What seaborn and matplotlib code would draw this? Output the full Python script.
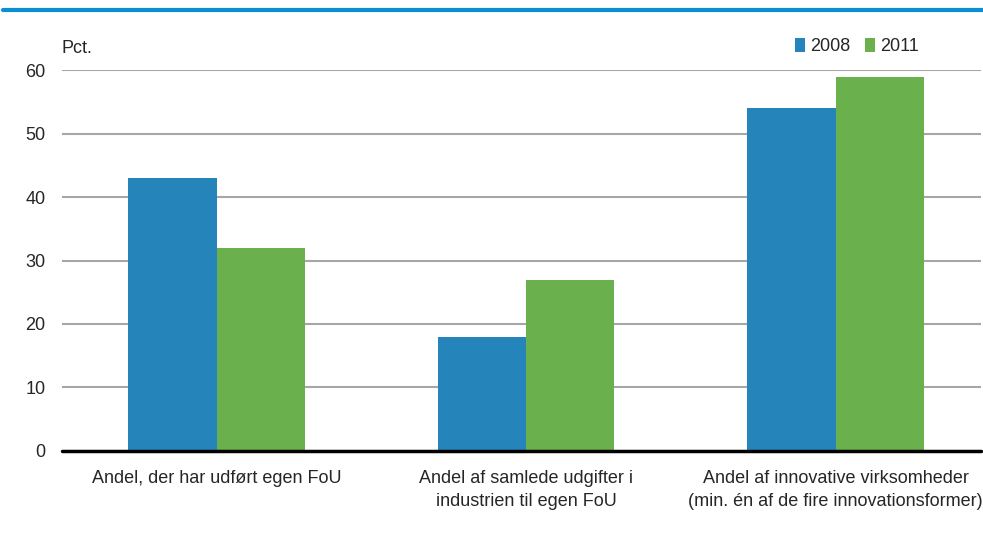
import matplotlib
matplotlib.use("Agg")
import matplotlib.pyplot as plt
import seaborn as sns
import pandas as pd
from matplotlib.lines import Line2D
from matplotlib.patches import Patch

categories = [
    "Andel, der har udført egen FoU",
    "Andel af samlede udgifter i\nindustrien til egen FoU",
    "Andel af innovative virksomheder\n(min. én af de fire innovationsformer)",
]
years = ["2008", "2011"]
values_2008 = [43, 18, 54]
values_2011 = [32, 27, 59]
yticks = [0, 10, 20, 30, 40, 50, 60]

colors = {"2008": "#2585bb", "2011": "#6ab04c"}

df = pd.DataFrame({
    "kategori": categories * 2,
    "år": [years[0]] * 3 + [years[1]] * 3,
    "pct": values_2008 + values_2011,
})

sns.set_theme(style="white")
plt.rcParams["font.family"] = ["Liberation Sans Narrow", "Liberation Sans", "DejaVu Sans"]

fig = plt.figure(figsize=(9.83, 5.40), dpi=100)
ax = fig.add_axes([0.063, 0.165, 0.935, 0.705])

sns.barplot(data=df, x="kategori", y="pct", hue="år", palette=colors,
            width=0.57, saturation=1, ax=ax, legend=False, zorder=3)
for p in ax.patches:
    p.set_edgecolor("none")

ax.set_ylim(0, 60)
ax.set_xlim(-0.5, 2.47)
ax.set_yticks(yticks)
ax.set_yticklabels([str(t) for t in yticks], fontsize=13)
ax.tick_params(axis="y", length=0, pad=12)
ax.tick_params(axis="x", length=0, pad=14, labelsize=13)
for lbl in ax.get_xticklabels():
    lbl.set_linespacing(1.45)
ax.set_xlabel("")
ax.set_ylabel("")
for s in ax.spines.values():
    s.set_visible(False)
ax.yaxis.grid(True, color="#a6a6a6", linewidth=1.5, zorder=0)
ax.set_axisbelow(True)
ax.axhline(0, color="black", linewidth=2.5, zorder=4, clip_on=False)

ax.text(0.0, 1.035, "Pct.", transform=ax.transAxes, fontsize=13, ha="left", va="bottom")

handles = [Patch(facecolor=colors[y], edgecolor="none") for y in years]
ax.legend(handles, years, ncol=2, loc="lower right", bbox_to_anchor=(0.94, 1.02),
          frameon=False, fontsize=13, handlelength=0.6, handleheight=0.8,
          handletextpad=0.25, columnspacing=0.8, borderaxespad=0)

# header rule
fig.add_artist(Line2D([0.003, 1.0], [0.981, 0.981], color="#0a8fd0", linewidth=3,
                      transform=fig.transFigure))

fig.savefig("out.png", dpi=100)
